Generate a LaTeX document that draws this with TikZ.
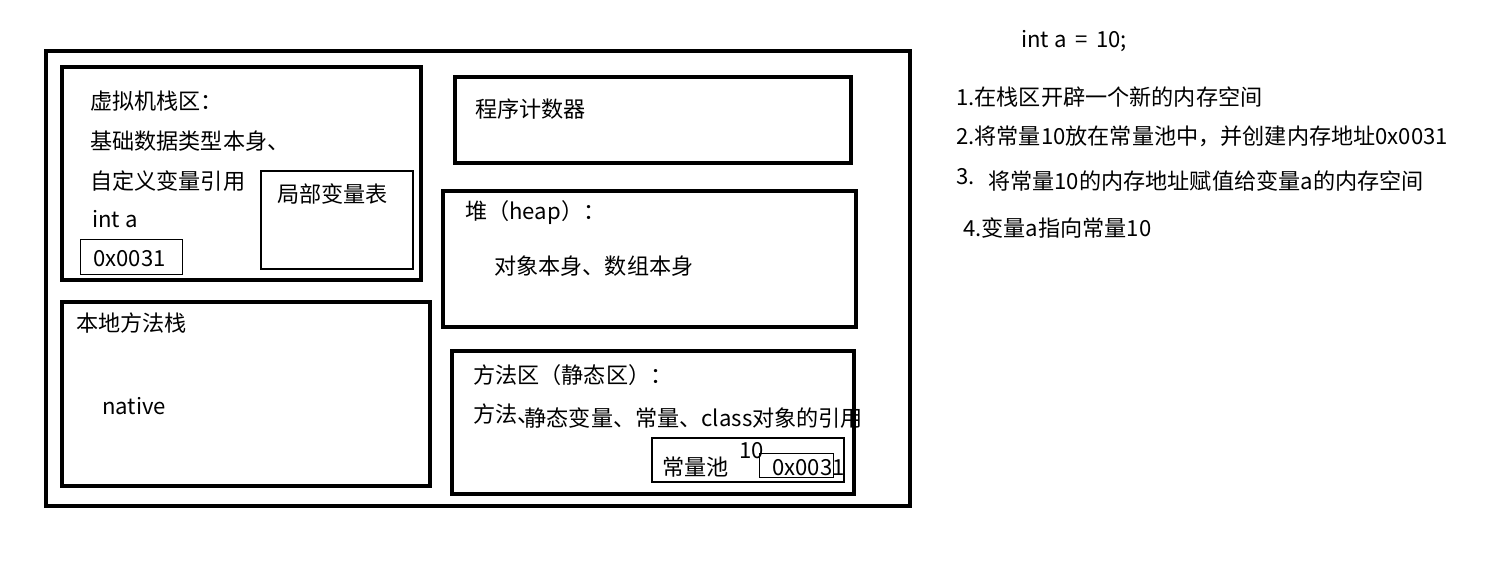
\documentclass[tikz,border=0pt]{standalone}
\usepackage{fontspec}
\setmainfont{Noto Sans CJK SC}
\usepackage{tikz}
\tikzset{
area/.style={draw,line width=3pt},
pool/.style={draw,line width=1.6pt},
cell/.style={draw,line width=0.6pt},
txt/.style={anchor=west,inner sep=0pt,font=\fontsize{16.6pt}{18pt}\selectfont},
}
\begin{document}
\begin{tikzpicture}[x=0.75pt,y=-0.75pt]
\useasboundingbox (0,0) rectangle (1512,570);
% the memory areas
\draw[area] (46,51) rectangle (910,506);
\draw[area] (62,67) rectangle (421,280);
\draw[pool] (261,171) rectangle (413,269);
\draw[cell] (80,239) rectangle (182,274);
\draw[area] (455,77) rectangle (851,163);
\draw[area] (443,191) rectangle (856,327);
\draw[area] (62,302) rectangle (430,486);
\draw[area] (452,351) rectangle (854,494);
\draw[pool] (652,438) rectangle (844,482);
\draw[cell] (759,453) rectangle (833,477);
% stack
\node[txt] (stack) at (90,101) {虚拟机栈区：};
\node[txt] (basic) at (90,141) {基础数据类型本身、};
\node[txt] (ref) at (90,181) {自定义变量引用};
\node[txt] (inta) at (92,219) {int a};
\node[txt] (addra) at (93,259) {0x0031};
\node[txt] (local) at (277,194) {局部变量表};
% pc and heap
\node[txt] (pc) at (475,109) {程序计数器};
\node[txt] (heap) at (465,213) {堆（heap）：};
\node[txt] (objs) at (494,266) {对象本身、数组本身};
% native
\node[txt] (native) at (76,323) {本地方法栈};
\node[txt] (nat) at (102,406) {native};
% method area
\node[txt] (method) at (473,375) {方法区（静态区）：};
\node[txt] (mcont) at (473,416) {方法、\kern-0.68em\raisebox{-2.5pt}{静态变量、常量、class对象的引用}};
\node[txt] (cpool) at (662,467) {常量池};
\node[txt] (ten) at (739,451) {10};
\node[txt] (addrc) at (772,468) {0x0031};
% the steps
\node[txt] (code) at (1021,41) {int a \,=\, 10;};
\node[txt] (s1) at (956,97) {1.在栈区开辟一个新的内存空间};
\node[txt] (s2) at (956,136) {2.将常量10放在常量池中，并创建内存地址0x0031};
\node[txt] (s3n) at (956,177) {3.};
\node[txt] (s3) at (988,181) {将常量10的内存地址赋值给变量a的内存空间};
\node[txt] (s4) at (963,228) {4.变量a指向常量10};
\end{tikzpicture}
\end{document}
